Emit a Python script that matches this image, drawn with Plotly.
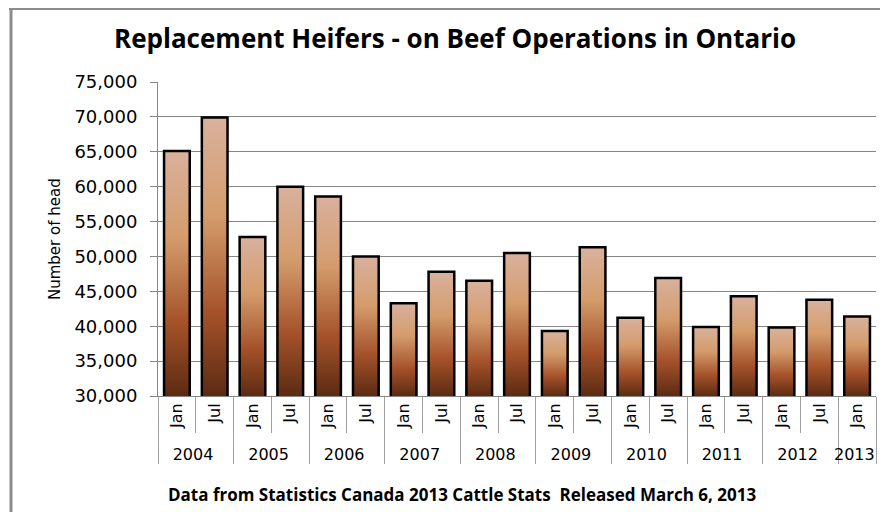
import plotly.graph_objects as go

# ---- data ----
years = ["2004", "2004", "2005", "2005", "2006", "2006", "2007", "2007", "2008", "2008",
         "2009", "2009", "2010", "2010", "2011", "2011", "2012", "2012", "2013"]
months = ["Jan", "Jul", "Jan", "Jul", "Jan", "Jul", "Jan", "Jul", "Jan", "Jul",
          "Jan", "Jul", "Jan", "Jul", "Jan", "Jul", "Jan", "Jul", "Jan"]
values = [65100, 69900, 52800, 60000, 58600, 50000, 43300, 47800, 46500, 50500,
          39300, 51300, 41200, 46900, 39900, 44300, 39800, 43800, 41400]

y_ticks = [30000, 35000, 40000, 45000, 50000, 55000, 60000, 65000, 70000, 75000]

title_text = "Replacement Heifers - on Beef Operations in Ontario"
y_title = "Number of head"
footer_text = "Data from Statistics Canada 2013 Cattle Stats  Released March 6, 2013"

# ---- style ----
OFF = 8                      # page body margin of the browser
W, H = 888 - OFF, 512 - OFF
ML, MR, MT, MB = 150, 12, 74, 116
Y_MIN, Y_MAX = y_ticks[0], y_ticks[-1]
BARGAP = 0.32
GRID = "#868686"
GRADIENT = [[0.0, "#5c2b12"], [0.3, "#a5522a"], [0.65, "#d49c6c"], [1.0, "#d9b19d"]]

fig = go.Figure()

half = (1 - BARGAP) / 2
for i, v in enumerate(values):
    fig.add_trace(go.Scatter(
        x=[i - half, i + half, i + half, i - half, i - half],
        y=[Y_MIN, Y_MIN, v, v, Y_MIN],
        mode="lines", fill="toself",
        line=dict(width=0, color="black"),
        fillgradient=dict(type="vertical", colorscale=GRADIENT),
        hoverinfo="skip", showlegend=False,
        xaxis="x", yaxis="y",
    ))

fig.add_trace(go.Bar(
    x=[years, months], y=values,
    xaxis="x2", yaxis="y",
    marker=dict(color="rgba(0,0,0,0)", line=dict(color="black", width=2.5)),
    showlegend=False,
))

pw = W - ML - MR
ph = H - MT - MB

def px_x(p):
    return (p - OFF - ML) / pw

def px_y(p):
    return (H - MB - (p - OFF)) / ph

fig.update_layout(
    width=W, height=H,
    margin=dict(l=ML, r=MR, t=MT, b=MB),
    paper_bgcolor="white", plot_bgcolor="white",
    bargap=BARGAP,
    font=dict(family="DejaVu Sans", color="black"),
    xaxis=dict(range=[-0.5, len(values) - 0.5], visible=False, fixedrange=True),
    xaxis2=dict(
        type="multicategory", overlaying="x", anchor="y",
        range=[-0.5, len(values) - 0.5],
        tickangle=-90, ticks="outside", ticklen=36, tickcolor="#a0a0a0",
        showdividers=True, dividercolor="#a0a0a0", dividerwidth=1,
        showline=True, linecolor=GRID, linewidth=1,
        showgrid=False,
        tickfont=dict(family="DejaVu Sans", size=16, color="black"),
    ),
    yaxis=dict(
        range=[Y_MIN, Y_MAX], tickvals=y_ticks, tickformat=",d",
        showgrid=True, gridcolor=GRID, gridwidth=1,
        ticks="outside", ticklen=7, tickcolor=GRID,
        showline=True, linecolor=GRID, linewidth=1,
        zeroline=False,
        ticklabelstandoff=9,
        tickfont=dict(family="DejaVu Sans", size=18, color="black"),
    ),
    annotations=[
        dict(text=title_text, xref="paper", yref="paper",
             x=px_x(455), y=px_y(38), xanchor="center", yanchor="middle",
             showarrow=False,
             font=dict(family="Open Sans", size=26, color="black", weight="bold")),
        dict(text=y_title, xref="paper", yref="paper",
             x=px_x(55), y=0.5, xanchor="center", yanchor="middle",
             textangle=-90, showarrow=False,
             font=dict(family="DejaVu Sans", size=15, color="black")),
        dict(text=footer_text, xref="paper", yref="paper",
             x=px_x(166), y=px_y(494), xanchor="left", yanchor="middle",
             showarrow=False,
             font=dict(family="Open Sans", size=17, color="black", weight="bold")),
    ],
    shapes=[
        dict(type="line", xref="paper", yref="paper",
             x0=px_x(11), x1=px_x(11), y0=px_y(9), y1=px_y(530),
             line=dict(color="#8c8c8c", width=3)),
        dict(type="line", xref="paper", yref="paper",
             x0=px_x(9), x1=px_x(900), y0=px_y(9), y1=px_y(9),
             line=dict(color="#8c8c8c", width=2)),
    ],
)

fig.write_html("out.html")
